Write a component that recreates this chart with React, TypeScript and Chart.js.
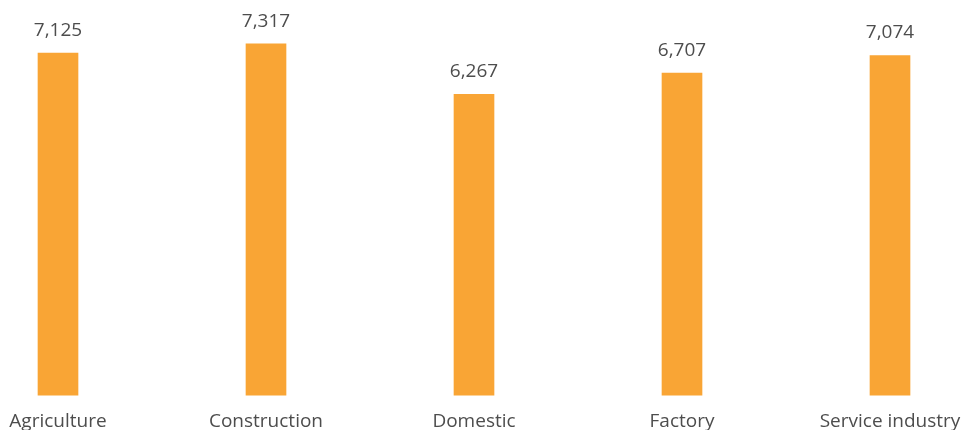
import React, { useEffect, useRef } from "react";
import { Chart, registerables } from "chart.js";

Chart.register(...registerables);

const categories = ["Agriculture", "Construction", "Domestic", "Factory", "Service industry"];
const values = [7125, 7317, 6267, 6707, 7074];

const BAR_COLOR = "#F9A535";
const TEXT_COLOR = "#4D4D4D";
const FONT_FAMILY = "'Open Sans', 'Noto Sans', sans-serif";

const valueLabels = {
  id: "valueLabels",
  afterDatasetsDraw(chart: any) {
    const ctx = chart.ctx;
    const meta = chart.getDatasetMeta(0);
    ctx.save();
    ctx.fillStyle = TEXT_COLOR;
    ctx.font = `19px ${FONT_FAMILY}`;
    ctx.textAlign = "center";
    ctx.textBaseline = "alphabetic";
    meta.data.forEach((bar: any, i: number) => {
      const v = values[i];
      ctx.fillText(v.toLocaleString("en-US"), bar.x, bar.y - 17);
    });
    ctx.restore();
  },
};

export default function App() {
  const ref = useRef<HTMLCanvasElement | null>(null);
  useEffect(() => {
    document.body.style.margin = "0";
    if (!ref.current) return;
    const chart = new Chart(ref.current, {
      type: "bar",
      data: {
        labels: categories,
        datasets: [
          {
            data: values,
            backgroundColor: BAR_COLOR,
            borderWidth: 0,
            barThickness: 40,
            clip: false as any,
          },
        ],
      },
      options: {
        animation: false,
        responsive: false,
        devicePixelRatio: 1,
        layout: { padding: { left: 58, right: 77, top: 11, bottom: -18 } },
        plugins: {
          legend: { display: false },
          tooltip: { enabled: false },
        },
        scales: {
          x: {
            offset: false,
            grid: { display: false, drawTicks: false },
            border: { display: false },
            afterFit: (scale: any) => {
              scale.paddingLeft = 0;
              scale.paddingRight = 0;
            },
            ticks: {
              color: TEXT_COLOR,
              font: { family: FONT_FAMILY, size: 19 },
              padding: 15,
              maxRotation: 0,
              autoSkip: false,
            },
          },
          y: {
            display: false,
            min: 0,
            max: 8000,
          },
        },
      },
      plugins: [valueLabels],
    });
    return () => chart.destroy();
  }, []);
  return (
    <div style={{ width: 967, height: 430 }}>
      <canvas ref={ref} width={967} height={430} />
    </div>
  );
}
